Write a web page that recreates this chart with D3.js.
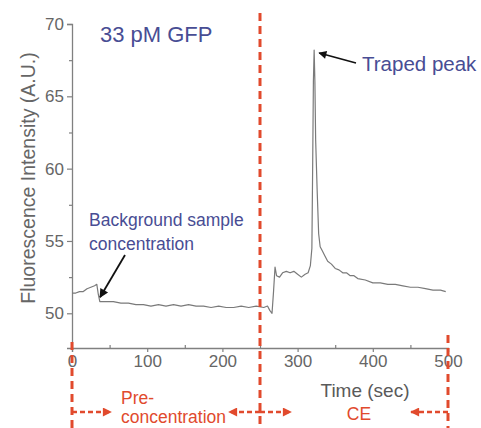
<!DOCTYPE html>
<html>
<head>
<meta charset="utf-8">
<script src="https://cdnjs.cloudflare.com/ajax/libs/d3/7.8.5/d3.min.js"></script>
<style>
  body { margin: 0; background: #fff; }
</style>
</head>
<body>
<div id="chart"></div>
<script>
// Data
var times = [0, 5, 10, 15, 20, 25, 30, 33, 35, 37, 45, 55, 65, 75, 85, 95, 105, 115, 125, 135,
  145, 155, 165, 175, 185, 195, 205, 215, 225, 235, 245, 255, 260, 263, 266, 268, 270,
  272, 276, 280, 285, 290, 295, 300, 305, 310, 314, 317, 319, 320, 321, 322, 323, 324,
  326, 328, 330, 333, 336, 340, 345, 350, 355, 360, 365, 370, 375, 380, 390, 400, 410,
  420, 430, 440, 450, 460, 470, 480, 490, 497];
var intensity = [51.4, 51.4, 51.5, 51.5, 51.7, 51.8, 51.9, 52.0, 51.3, 50.8, 50.8, 50.8, 50.7,
  50.7, 50.6, 50.6, 50.5, 50.6, 50.5, 50.6, 50.5, 50.6, 50.5, 50.5, 50.4, 50.5, 50.4, 50.4,
  50.5, 50.4, 50.5, 50.4, 50.5, 50.2, 50.0, 51.5, 53.2,
  52.6, 52.5, 52.8, 52.9, 52.8, 52.9, 52.7, 52.5, 52.7, 52.8, 53.3, 54.5, 60, 66, 68.2, 66,
  62, 58.5, 55.5, 54.6, 54.3, 54.0, 53.6, 53.4, 53.1, 53.0, 52.8, 52.8, 52.6, 52.6, 52.4,
  52.3, 52.1, 52.1, 52.0, 52.0, 51.9, 51.8, 51.8, 51.7, 51.6, 51.6, 51.5];
var xTicks = [0, 100, 200, 300, 400, 500];
var xMinorTicks = [50, 150, 250, 350, 450];
var yTicks = [50, 55, 60, 65, 70];
var yMinorTicks = [52.5, 57.5, 62.5, 67.5];
var phaseBounds = [0, 250, 500];   // red dashed separators (sec)
var peakTime = 322, peakValue = 68.2;
var bgTime = 36, bgValue = 50.9;

var attrs = {
  svgWidth: 481,
  svgHeight: 428,
  font: 'Liberation Sans, Arial, Helvetica, sans-serif',
  axisColor: '#808080',
  textColor: '#666666',
  traceColor: '#7a7a7a',
  noteColor: '#484d94',
  red: '#e14a2d'
};

var x = d3.scaleLinear().domain([0, 500]).range([72, 448]);
var y = d3.scaleLinear().domain([47.6, 70]).range([348, 24]);

var svg = d3.select('#chart').append('svg')
  .attr('width', attrs.svgWidth)
  .attr('height', attrs.svgHeight)
  .attr('font-family', attrs.font);

var defs = svg.append('defs');
defs.append('marker')
  .attr('id', 'redHead')
  .attr('viewBox', '0 0 10 10')
  .attr('refX', 9).attr('refY', 5)
  .attr('markerWidth', 6).attr('markerHeight', 3.6)
  .attr('markerUnits', 'strokeWidth')
  .attr('orient', 'auto')
  .append('path').attr('d', 'M0,0 L10,5 L0,10 z').attr('fill', attrs.red);

defs.append('marker')
  .attr('id', 'blackHead')
  .attr('viewBox', '0 0 10 10')
  .attr('refX', 9).attr('refY', 5)
  .attr('markerWidth', 7).attr('markerHeight', 5)
  .attr('markerUnits', 'strokeWidth')
  .attr('orient', 'auto')
  .append('path').attr('d', 'M0,0 L10,5 L0,10 z').attr('fill', '#111');

// axes
svg.append('g')
  .attr('transform', 'translate(0,' + y.range()[0] + ')')
  .call(d3.axisBottom(x).tickValues(xTicks).tickSize(4).tickPadding(3));
svg.append('g')
  .attr('transform', 'translate(0,' + y.range()[0] + ')')
  .call(d3.axisBottom(x).tickValues(xMinorTicks).tickSize(-3).tickFormat(''))
  .select('.domain').remove();

svg.append('g')
  .attr('transform', 'translate(' + x.range()[0] + ',0)')
  .call(d3.axisLeft(y).tickValues(yTicks).tickSize(5).tickPadding(3));
svg.append('g')
  .attr('transform', 'translate(' + x.range()[0] + ',0)')
  .call(d3.axisLeft(y).tickValues(yMinorTicks).tickSize(3).tickFormat(''))
  .select('.domain').remove();

svg.selectAll('.domain').attr('stroke', attrs.axisColor).attr('stroke-width', 1.3);
svg.selectAll('.tick line').attr('stroke', attrs.axisColor).attr('stroke-width', 1.2);
svg.selectAll('.tick text')
  .attr('fill', attrs.textColor)
  .attr('font-size', 17)
  .attr('font-family', attrs.font);

// axis titles
svg.append('text')
  .attr('transform', 'translate(35,178) rotate(-90)')
  .attr('text-anchor', 'middle')
  .attr('fill', attrs.textColor)
  .attr('font-size', 19.5)
  .text('Fluorescence Intensity (A.U.)');

svg.append('text')
  .attr('x', 365).attr('y', 397)
  .attr('text-anchor', 'middle')
  .attr('fill', '#5a5a5a')
  .attr('font-size', 19)
  .text('Time (sec)');

// trace
var line = d3.line()
  .x(function (d, i) { return x(times[i]); })
  .y(function (d) { return y(d); });

svg.append('path')
  .datum(intensity)
  .attr('d', line)
  .attr('fill', 'none')
  .attr('stroke', attrs.traceColor)
  .attr('stroke-width', 1.2)
  .attr('stroke-linejoin', 'round');

// red dashed phase separators
var dashTop = [342, 13, 335];
svg.selectAll('.phaseLine')
  .data(phaseBounds)
  .enter().append('line')
  .attr('class', 'phaseLine')
  .attr('x1', function (d) { return x(d); })
  .attr('x2', function (d) { return x(d); })
  .attr('y1', function (d, i) { return dashTop[i]; })
  .attr('y2', attrs.svgHeight)
  .attr('stroke', attrs.red)
  .attr('stroke-width', 3)
  .attr('stroke-dasharray', '8,5');

// phase arrows
var arrowY = 412;
var arrows = [
  { x1: x(0), x2: 111 },
  { x1: x(250), x2: 229 },
  { x1: x(250), x2: 291 },
  { x1: x(500), x2: 411 }
];
svg.selectAll('.phaseArrow')
  .data(arrows)
  .enter().append('line')
  .attr('class', 'phaseArrow')
  .attr('x1', function (d) { return d.x1; })
  .attr('x2', function (d) { return d.x2; })
  .attr('y1', arrowY).attr('y2', arrowY)
  .attr('stroke', attrs.red)
  .attr('stroke-width', 2.5)
  .attr('stroke-dasharray', '5,3')
  .attr('marker-end', 'url(#redHead)');

var redText = svg.append('g')
  .attr('fill', attrs.red)
  .attr('font-size', 17.5);
redText.append('text').attr('x', 121).attr('y', 404).text('Pre-');
redText.append('text').attr('x', 121).attr('y', 423).text('concentration');
redText.append('text').attr('x', 359).attr('y', 420).attr('text-anchor', 'middle').text('CE');

// annotations
svg.append('text')
  .attr('x', 100).attr('y', 42)
  .attr('fill', attrs.noteColor)
  .attr('font-size', 22)
  .text('33 pM GFP');

svg.append('text')
  .attr('x', 362).attr('y', 71)
  .attr('fill', attrs.noteColor)
  .attr('font-size', 20.5)
  .text('Traped peak');

svg.append('line')
  .attr('x1', 356).attr('y1', 63)
  .attr('x2', x(peakTime) + 5).attr('y2', y(peakValue) + 3)
  .attr('stroke', '#111').attr('stroke-width', 1.6)
  .attr('marker-end', 'url(#blackHead)');

var bg = svg.append('text')
  .attr('fill', attrs.noteColor)
  .attr('font-size', 17.5);
bg.append('tspan').attr('x', 89).attr('y', 226).text('Background sample');
bg.append('tspan').attr('x', 89).attr('y', 250).text('concentration');

svg.append('line')
  .attr('x1', 125).attr('y1', 255)
  .attr('x2', x(bgTime) + 1).attr('y2', y(bgValue) - 3)
  .attr('stroke', '#111').attr('stroke-width', 1.8)
  .attr('marker-end', 'url(#blackHead)');
</script>
</body>
</html>
